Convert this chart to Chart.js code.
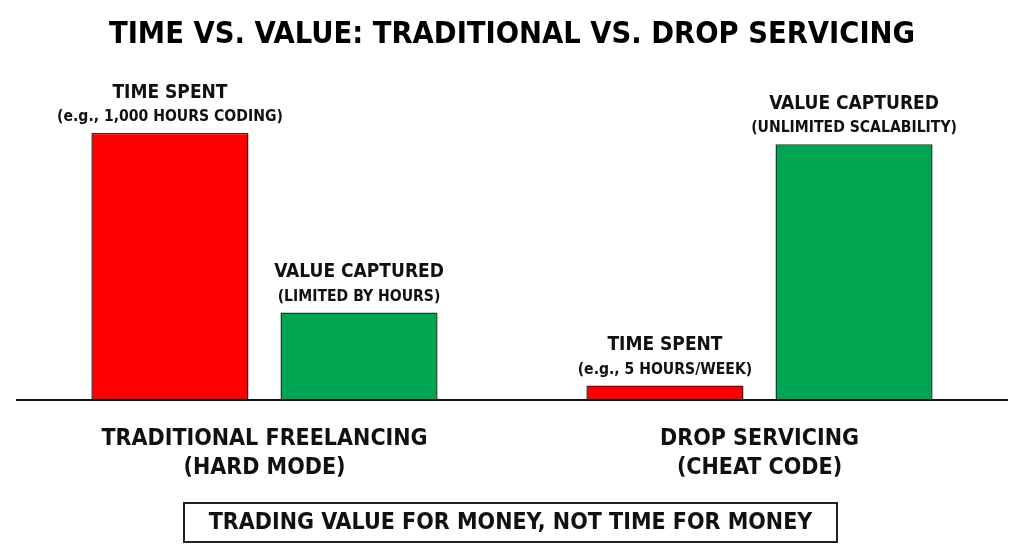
<!DOCTYPE html>
<html>
<head>
<meta charset="utf-8">
<script src="https://cdn.jsdelivr.net/npm/chart.js@4.4.1/dist/chart.umd.min.js"></script>
<style>
  html, body { margin: 0; padding: 0; background: #fff; }
  #wrap { position: relative; width: 1024px; height: 559px; }
  #footer {
    position: absolute; left: 183px; top: 502px; width: 651px; height: 33px;
    padding-top: 4px; box-sizing: content-box;
    border: 2px solid #222; color: #111; text-align: center; line-height: 37px;
    overflow: hidden;
    font: bold 23px 'DejaVu Sans Condensed', sans-serif;
  }
</style>
</head>
<body>
<div id="wrap">
  <canvas id="chart" width="1024" height="559"></canvas>
  <div id="footer">TRADING VALUE FOR MONEY, NOT TIME FOR MONEY</div>
</div>
<script>
// chart data
const chartTitle = 'TIME VS. VALUE: TRADITIONAL VS. DROP SERVICING';
const categories = [['TRADITIONAL FREELANCING', '(HARD MODE)'], ['DROP SERVICING', '(CHEAT CODE)']];
const seriesNames = ['TIME SPENT', 'VALUE CAPTURED'];
const timeSpent = [95, 5];
const valueCaptured = [31, 91];
const timeNotes = ['(e.g., 1,000 HOURS CODING)', '(e.g., 5 HOURS/WEEK)'];
const valueNotes = ['(LIMITED BY HOURS)', '(UNLIMITED SCALABILITY)'];

const FONT = "'DejaVu Sans Condensed', sans-serif";

// labels above each bar
const barLabels = {
  id: 'barLabels',
  afterDatasetsDraw(chart) {
    const ctx = chart.ctx;
    const notes = [timeNotes, valueNotes];
    ctx.save();
    ctx.fillStyle = '#111';
    ctx.textAlign = 'center';
    ctx.textBaseline = 'middle';
    chart.data.datasets.forEach((ds, i) => {
      chart.getDatasetMeta(i).data.forEach((bar, j) => {
        ctx.font = 'bold 19px ' + FONT;
        ctx.fillText(ds.label, bar.x, bar.y - 40);
        ctx.font = 'bold 15.6px ' + FONT;
        ctx.fillText(notes[i][j], bar.x, bar.y - 16);
      });
    });
    ctx.restore();
  }
};

const ctx = document.getElementById('chart').getContext('2d');
new Chart(ctx, {
  type: 'bar',
  data: {
    labels: categories,
    datasets: [{
      label: seriesNames[0],
      data: timeSpent,
      backgroundColor: '#ff0000',
      borderColor: '#3a2020',
      borderWidth: 1.5,
      categoryPercentage: 0.764,
      barPercentage: 0.831
    }, {
      label: seriesNames[1],
      data: valueCaptured,
      backgroundColor: '#00a551',
      borderColor: '#1f3a28',
      borderWidth: 1.5,
      categoryPercentage: 0.764,
      barPercentage: 0.831
    }]
  },
  options: {
    responsive: false,
    animation: false,
    layout: { padding: { left: 17, right: 17, top: 0, bottom: 0 } },
    plugins: {
      legend: { display: false },
      tooltip: { enabled: false },
      title: {
        display: true,
        text: chartTitle,
        color: '#000',
        font: { family: FONT, size: 30.5, weight: 'bold' },
        padding: { top: 17, bottom: 65.4 }
      }
    },
    scales: {
      y: { display: false, min: 0, max: 100 },
      x: {
        grid: { display: false, drawTicks: false },
        border: { display: true, color: '#111', width: 2 },
        ticks: {
          color: '#111',
          padding: 26,
          font: { family: FONT, size: 23, weight: 'bold', lineHeight: 1.22 }
        },
        afterFit(scale) { scale.height = 159.5; }
      }
    }
  },
  plugins: [barLabels]
});
</script>
</body>
</html>
